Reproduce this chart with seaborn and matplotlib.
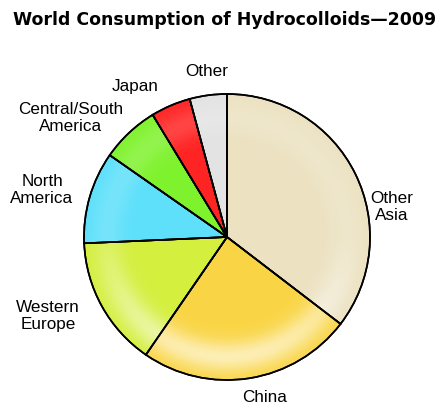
import matplotlib
matplotlib.use("Agg")
import matplotlib.pyplot as plt
import matplotlib.patches as mpatches
import numpy as np
import seaborn as sns

# data (share of world consumption, %)
regions = ["Other\nAsia", "China", "Western\nEurope", "North\nAmerica",
           "Central/South\nAmerica", "Japan", "Other"]
shares = [35.4, 24.2, 14.7, 10.4, 6.6, 4.5, 4.2]
colors = ["#ECE2C2", "#F9D545", "#D4EF3E", "#5EE0FA", "#7FF22E", "#FF2424", "#E3E3E3"]

# label anchor points in pixel coords (x, y from top)
label_pos = [(392, 207), (265, 398), (48, 316), (42, 190), (71, 118), (135, 87), (207, 72)]

sns.set_theme(style="white")
plt.rcParams["font.family"] = ["Liberation Sans", "DejaVu Sans"]

W, H = 448, 418
fig = plt.figure(figsize=(W / 100, H / 100), dpi=100)
ax = fig.add_axes([0, 0, 1, 1])

cx, cy, r = 227, H - 237, 143
wedges, _ = ax.pie(shares, colors=colors, startangle=90, counterclock=False,
                   center=(cx, cy), radius=r,
                   wedgeprops=dict(edgecolor="black", linewidth=1.2))

# soft glossy ring like the original's shading, brightest at the bottom
n = 300
xs = np.linspace(-1, 1, n)
gx, gy = np.meshgrid(xs, xs)
rho = np.hypot(gx, gy)
theta = np.arctan2(gy, gx)
strength = 0.15 + 0.45 * np.clip(-np.sin(theta), 0, 1)
alpha = strength * np.exp(-((rho - 0.84) / 0.11) ** 2)
glow = np.ones((n, n, 4))
glow[..., 3] = alpha
im = ax.imshow(glow, extent=(cx - r, cx + r, cy - r, cy + r), origin="lower",
               zorder=wedges[0].get_zorder() + 0.5, interpolation="bilinear")
im.set_clip_path(mpatches.Circle((cx, cy), r, transform=ax.transData))
# redraw edges on top of the glow
ax.pie(shares, colors=["none"] * len(shares), startangle=90, counterclock=False,
       center=(cx, cy), radius=r,
       wedgeprops=dict(edgecolor="black", linewidth=1.2, zorder=5))

for lab, (x, y) in zip(regions, label_pos):
    ax.text(x, H - y, lab, ha="center", va="center", fontsize=12.3,
            linespacing=1.15, color="black")

ax.text(225, H - 20, "World Consumption of Hydrocolloids\u20142009",
        ha="center", va="center", fontsize=12.5, fontweight="heavy",
        color="black", family=["DejaVu Sans"])

ax.set_xlim(0, W)
ax.set_ylim(0, H)
ax.set_aspect("equal")
ax.axis("off")

fig.savefig("out.png", dpi=100)
